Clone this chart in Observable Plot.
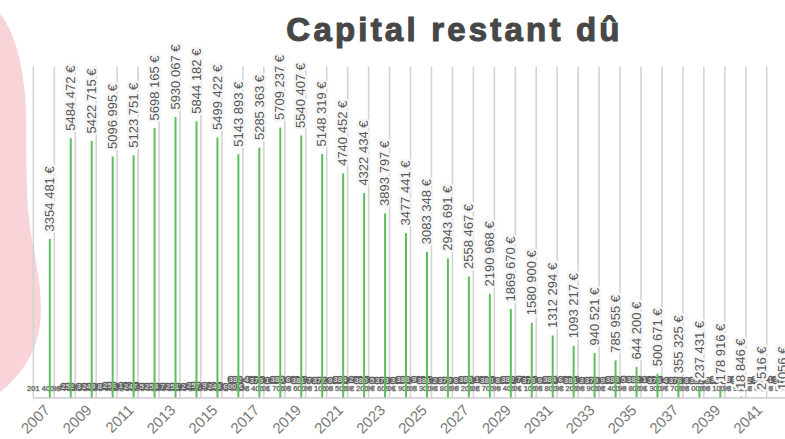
<!DOCTYPE html>
<html><head><meta charset="utf-8">
<script src="https://cdn.jsdelivr.net/npm/d3@7"></script>
<script src="https://cdn.jsdelivr.net/npm/@observablehq/plot@0.6"></script>
<style>
body{margin:0;background:#fff;}
#wrap{position:relative;width:785px;height:439px;overflow:hidden;font-family:"Liberation Sans",Arial,sans-serif;}
#blob{position:absolute;left:0;top:0;}
#title{position:absolute;left:0;width:909px;top:10px;text-align:center;font-family:"Liberation Sans",Arial,sans-serif;font-weight:bold;font-size:33px;letter-spacing:3.2px;color:#474747;margin:0;line-height:40px;-webkit-text-stroke:1.1px #474747;}
#chart{position:absolute;left:0;top:0;}
</style></head>
<body>
<div id="wrap">
<svg id="blob" width="785" height="439"><path d="M0,14 C12,28 24,60 26,110 C27,160 25,200 32,240 C40,280 44,310 38,335 C32,360 16,380 0,392 Z" fill="#f8d3d8"/></svg>
<div id="title">Capital restant dû</div>
<div id="chart"></div>
</div>
<script>
const years = [2007,2008,2009,2010,2011,2012,2013,2014,2015,2016,2017,2018,2019,2020,2021,2022,2023,2024,2025,2026,2027,2028,2029,2030,2031,2032,2033,2034,2035,2036,2037,2038,2039,2040,2041,2042];
const capital = [3354481,5484472,5422715,5096995,5123751,5698165,5930067,5844182,5499422,5143893,5285363,5709237,5540407,5148319,4740452,4322434,3893797,3477441,3083348,2943691,2558467,2190968,1869670,1580900,1312294,1093217,940521,785955,644200,500671,355325,237431,178916,18846,2516,1056];
const tickYears = [2007,2009,2011,2013,2015,2017,2019,2021,2023,2025,2027,2029,2031,2033,2035,2037,2039,2041];
const gridYears = [2006,2007,2008,2009,2010,2011,2012,2013,2014,2015,2016,2017,2018,2019,2020,2021,2022,2023,2024,2025,2026,2027,2028,2029,2030,2031,2032,2033,2034,2035,2036,2037,2038,2039,2040,2041];
// small overlapping secondary series near the baseline (illegible in the source, estimated)
const annuiteYears = [2008,2009,2010,2011,2012,2013,2014,2015,2016,2017,2018,2019,2020,2021,2022,2023,2024,2025,2026,2027,2028,2029,2030,2031,2032,2033,2034,2035,2036,2037,2038,2039,2040,2041,2042];
const annuites = [252300,249800,256100,247500,254700,251200,257900,248600,382400,379100,385600,381700,377900,384200,380500,378300,383900,381200,379600,385100,380800,382700,378900,384600,381300,379900,383500,382100,378400,376800,381900,384300,380200,383100,379700];
const interets = [201400,198700,203200,199600,202500,197900,200800,204100,199300,202900,198400,201700,203600,199100,200500,202200,197600,201900,203300,198800,200200,202700,199400,201100,203800,198200,200900,202400,199800,201300,197700,203000,200100,198900,202600,199500];

const fmt = v => v >= 1000 ? `${Math.floor(v/1000)} ${String(v%1000).padStart(3,"0")} €` : `${v} €`;
const main = years.map((y,i) => ({year: y, value: capital[i], label: fmt(capital[i])}));
const annData = annuiteYears.map((y,i) => ({year: y, value: annuites[i], label: fmt(annuites[i])}));
const intData = years.map((y,i) => ({year: y, value: interets[i], label: fmt(interets[i])}));

const chart = Plot.plot({
  width: 785, height: 439,
  marginLeft: 49.3, marginRight: 2.3, marginTop: 66.5, marginBottom: 41.5,
  style: {background: "transparent", fontFamily: "'Liberation Sans', Arial, sans-serif"},
  x: {type: "linear", domain: [2007, 2042], axis: null},
  y: {domain: [0, 7000000], axis: null},
  marks: [
    Plot.ruleX(gridYears, {x: d => d, dx: 4.5, stroke: "#d4d4d4", strokeWidth: 1.6}),
    Plot.ruleY([0], {x1: gridYears[0], x2: years[years.length-1], dx: 4.5, stroke: "#cdcdcd", strokeWidth: 1.6}),
    Plot.text(intData, {x: "year", y: "value", text: "label", fontSize: 7.5, fill: "#6f6f6f", stroke: "#9a9a9a", strokeWidth: 0.6, dx: -6}),
    Plot.line(annData, {x: "year", y: "value", stroke: "#5a5a5a", strokeWidth: 1.2, curve: "step-after"}),
    Plot.text(annData, {x: "year", y: "value", text: "label", fontSize: 8, fontWeight: "bold", fill: "#cfcfcf", stroke: "#5f5f5f", strokeWidth: 2.6, dx: 8}),
    Plot.ruleX(main, {x: "year", y1: 0, y2: "value", stroke: "#5cbf5c", strokeWidth: 2}),
    Plot.text(main, {x: "year", y: "value", text: "label", rotate: -90, textAnchor: "start", dy: -8, fontSize: 13, fill: "#575757", stroke: "#f6f6f6", strokeWidth: 5, strokeLinejoin: "round"}),
    Plot.text(tickYears, {x: d => d, text: d => String(d), frameAnchor: "bottom", rotate: -45, textAnchor: "end", dx: 1, dy: 13, fontSize: 15, fill: "#7a7a7a"})
  ]
});
document.getElementById("chart").appendChild(chart);
</script>
</body></html>
